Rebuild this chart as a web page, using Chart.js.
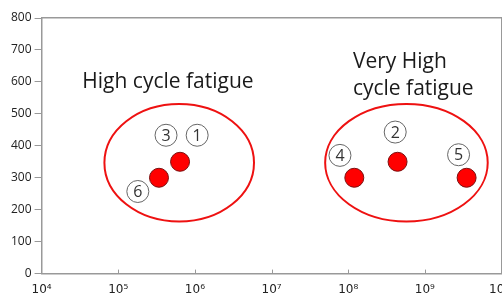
<!DOCTYPE html>
<html>
<head>
<meta charset="utf-8">
<script src="https://cdn.jsdelivr.net/npm/chart.js@4.4.1/dist/chart.umd.min.js"></script>
<style>
  html, body { margin: 0; padding: 0; background: #fff; overflow: hidden; }
  #wrap { width: 523px; height: 308px; }
</style>
</head>
<body>
<div id="wrap"><canvas id="chart"></canvas></div>
<script>
// Valores do gráfico
const xTicks = [1e4, 1e5, 1e6, 1e7, 1e8, 1e9, 1e10];
const xTickLabels = ['10⁴', '10⁵', '10⁶', '10⁷', '10⁸', '10⁹', '10¹⁰'];
const yTicks = [0, 100, 200, 300, 400, 500, 600, 700, 800];

// Pontos vermelhos (ciclos, tensão)
const dotCycles = [6.4e5, 3.4e5, 1.2e8, 4.4e8, 3.5e9];
const dotStress = [350, 300, 300, 350, 300];

// Números circulados
const markNames = ['1', '2', '3', '4', '5', '6'];
const markCycles = [1.07e6, 4.1e8, 4.2e5, 7.8e7, 2.75e9, 1.8e5];
const markStress = [433, 443, 433, 370, 372, 257];

// Elipses: limites em unidades de dados
const regionNames = ['High cycle fatigue', 'Very High cycle fatigue'];
const regionXMin = [6.6e4, 5.0e7];
const regionXMax = [5.9e6, 6.6e9];
const regionYMin = [163, 163];
const regionYMax = [531, 531];

// Textos das regiões
const textLines = [['High cycle fatigue'], ['Very High', 'cycle fatigue']];
const textCycles = [4.45e5, 1.15e8];
const textStress = [[600], [663, 578]];
const textAlign = ['center', 'left'];

const overlayPlugin = {
  id: 'overlay',
  afterDatasetsDraw(chart) {
    const ctx = chart.ctx;
    const xs = chart.scales.x, ys = chart.scales.y;
    const area = chart.chartArea;

    // Marcas internas do eixo x
    ctx.save();
    ctx.strokeStyle = '#999';
    ctx.lineWidth = 1;
    xTicks.slice(1, -1).forEach(v => {
      const px = Math.round(xs.getPixelForValue(v)) + 0.5;
      ctx.beginPath();
      ctx.moveTo(px, area.bottom);
      ctx.lineTo(px, area.bottom - 4);
      ctx.stroke();
    });

    // Elipses
    ctx.strokeStyle = '#ee1111';
    ctx.lineWidth = 2;
    regionNames.forEach((n, i) => {
      const x1 = xs.getPixelForValue(regionXMin[i]);
      const x2 = xs.getPixelForValue(regionXMax[i]);
      const y1 = ys.getPixelForValue(regionYMax[i]);
      const y2 = ys.getPixelForValue(regionYMin[i]);
      ctx.beginPath();
      ctx.ellipse((x1 + x2) / 2, (y1 + y2) / 2, (x2 - x1) / 2, (y2 - y1) / 2, 0, 0, Math.PI * 2);
      ctx.stroke();
    });

    // Textos
    ctx.fillStyle = '#1a1a1a';
    ctx.font = '21px "Open Sans"';
    ctx.textBaseline = 'middle';
    textLines.forEach((lines, i) => {
      ctx.textAlign = textAlign[i];
      lines.forEach((t, j) => {
        ctx.fillText(t, xs.getPixelForValue(textCycles[i]), ys.getPixelForValue(textStress[i][j]));
      });
    });

    // Números dentro dos círculos
    ctx.fillStyle = '#333';
    ctx.font = '16px "Open Sans"';
    ctx.textAlign = 'center';
    markNames.forEach((n, i) => {
      ctx.fillText(n, xs.getPixelForValue(markCycles[i]), ys.getPixelForValue(markStress[i]) + 1);
    });
    ctx.restore();
  }
};

new Chart(document.getElementById('chart'), {
  type: 'scatter',
  data: {
    datasets: [
      {
        label: 'dots',
        data: dotCycles.map((x, i) => ({ x: x, y: dotStress[i] })),
        backgroundColor: '#ff0000',
        borderColor: '#7a1010',
        borderWidth: 1,
        pointRadius: 9.5,
        order: 1
      },
      {
        label: 'marks',
        data: markCycles.map((x, i) => ({ x: x, y: markStress[i] })),
        backgroundColor: '#ffffff',
        borderColor: '#666',
        borderWidth: 1,
        pointRadius: 11,
        order: 2
      }
    ]
  },
  options: {
    responsive: true,
    maintainAspectRatio: false,
    animation: false,
    layout: { padding: { left: 8, top: 10, right: 0, bottom: 2 } },
    plugins: {
      legend: { display: false },
      tooltip: { enabled: false }
    },
    scales: {
      x: {
        type: 'logarithmic',
        min: 1e4,
        max: 1e10,
        afterBuildTicks: (axis) => { axis.ticks = xTicks.map(v => ({ value: v })); },
        ticks: {
          autoSkip: false,
          maxRotation: 0,
          padding: 9,
          color: '#222',
          font: { family: 'DejaVu Sans', size: 12 },
          callback: (v) => {
            const i = xTicks.indexOf(v);
            return i >= 0 ? xTickLabels[i] : '';
          }
        },
        grid: { display: false, drawTicks: false },
        border: { color: '#999', width: 1.5 }
      },
      y: {
        min: 0,
        max: 800,
        afterBuildTicks: (axis) => { axis.ticks = yTicks.map(v => ({ value: v })); },
        ticks: {
          padding: 3,
          color: '#222',
          font: { family: 'Open Sans', size: 12 }
        },
        grid: { drawOnChartArea: false, tickLength: 7, color: '#999' },
        border: { color: '#999', width: 1.5 }
      },
      x2: {
        type: 'linear', position: 'top', min: 0, max: 1,
        ticks: { display: false }, grid: { display: false },
        border: { color: '#999', width: 1.5 }
      },
      y2: {
        type: 'linear', position: 'right', min: 0, max: 1,
        ticks: { display: false }, grid: { display: false },
        border: { color: '#999', width: 1.5 }
      }
    }
  },
  plugins: [overlayPlugin]
});
</script>
</body>
</html>
